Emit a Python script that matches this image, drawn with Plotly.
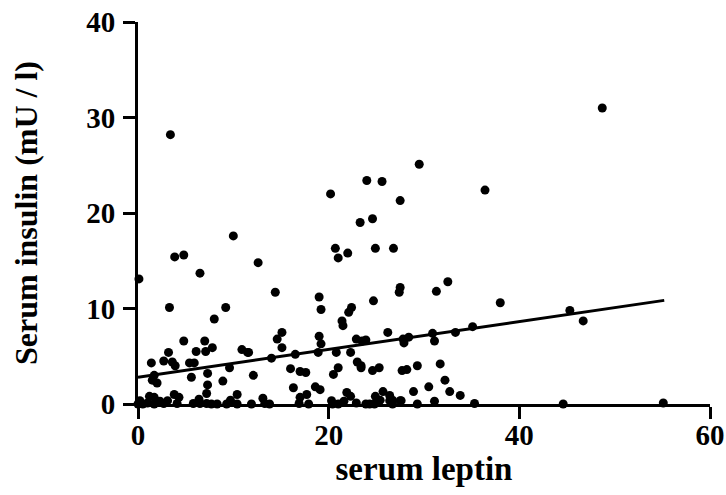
import plotly.graph_objects as go

# Scatter data: serum leptin (x) vs serum insulin (y)
leptin = [
    3.4, 48.7, 0.1, 3.85, 4.8, 6.5, 10.0, 12.6, 14.4, 20.2, 20.7, 21.0, 22.0, 23.3, 24.0,
    24.6, 24.9, 25.6, 26.8, 27.5, 29.5, 36.4, 27.5, 27.4, 24.7, 31.3, 32.5, 38.0, 45.3, 46.7,
    44.6, 55.1, 19.0, 19.2, 35.3, 35.1,
    3.3, 9.2, 8.0, 4.8, 7.0, 3.2, 6.1, 7.1, 7.8, 1.4, 2.7, 3.6, 3.9, 5.4, 5.9, 7.3, 1.7, 1.5,
    2.0, 5.6, 7.3, 8.9, 9.6, 10.9, 11.5, 10.4, 1.2, 1.7, 3.8, 4.3, 7.2, 6.4,
    0.2, 0.5, 1.7, 2.7, 3.1, 4.1, 5.8, 6.5, 7.2, 7.7, 8.3, 9.3, 9.7, 10.4, 0.0, 1.0, 2.3,
    15.1, 14.6, 15.1, 19.0, 19.2, 18.9, 22.9, 23.5, 11.6, 14.0, 16.5, 20.8, 22.3, 23.0, 23.4,
    16.0, 17.0, 17.6, 21.0, 20.5, 12.1, 16.3, 18.6, 19.1, 17.7, 17.0, 21.9, 22.3, 13.1, 21.4,
    21.5, 22.4, 22.1,
    11.9, 13.3, 13.8, 16.9, 17.9, 20.3, 20.4, 21.0, 21.6, 22.9, 23.9, 24.3, 24.8, 25.4,
    23.9, 27.8, 28.4, 27.9, 30.9, 31.1, 33.3, 26.2, 23.4, 24.6, 25.3, 27.7, 28.2, 29.3, 31.7,
    32.2, 30.5, 28.9, 25.7, 24.9, 26.4, 26.7, 27.6, 32.7, 33.8,
    26.4, 26.7, 27.5, 29.3, 31.1,
]
insulin = [
    28.2, 31.0, 13.1, 15.4, 15.6, 13.7, 17.6, 14.8, 11.7, 22.0, 16.3, 15.3, 15.8, 19.0, 23.4,
    19.4, 16.3, 23.3, 16.3, 21.3, 25.1, 22.4, 12.2, 11.7, 10.8, 11.8, 12.8, 10.6, 9.8, 8.7,
    0.0, 0.1, 11.2, 9.9, 0.05, 8.1,
    10.1, 10.1, 8.9, 6.6, 6.6, 5.4, 5.5, 5.5, 5.9, 4.3, 4.5, 4.4, 4.0, 4.3, 4.3, 3.2, 3.0, 2.5,
    2.2, 2.8, 2.0, 2.4, 3.8, 5.7, 5.4, 1.0, 0.8, 0.7, 1.0, 0.7, 1.1, 0.5,
    0.35, 0.0, 0.0, 0.05, 0.35, 0.05, 0.05, 0.05, 0.05, 0.0, 0.0, 0.0, 0.4, 0.0, 0.0, 0.1, 0.3,
    7.5, 6.8, 5.9, 7.1, 6.3, 5.4, 6.8, 6.6, 5.4, 4.8, 5.2, 5.4, 5.4, 4.4, 3.8,
    3.7, 3.4, 3.3, 3.8, 3.1, 3.0, 1.7, 1.8, 1.5, 1.0, 0.7, 1.2, 0.8, 0.6, 8.7,
    8.2, 10.1, 9.6,
    0.0, 0.05, 0.0, 0.05, 0.0, 0.35, 0.0, 0.0, 0.3, 0.1, 0.0, 0.0, 0.0, 0.4,
    6.7, 6.8, 7.0, 6.4, 7.4, 6.6, 7.5, 7.5, 4.0, 3.5, 3.8, 3.5, 3.6, 4.0, 4.2,
    2.5, 1.8, 1.3, 1.3, 0.8, 0.9, 0.4, 0.35, 1.3, 0.9,
    0.35, 0.0, 0.35, 0.0, 0.3,
]

# Regression line end points
fit_x = [0.0, 55.2]
fit_y = [2.8, 10.85]

x_ticks = [0, 20, 40, 60]
y_ticks = [0, 10, 20, 30, 40]

FONT = "Liberation Serif, Times New Roman, serif"

fig = go.Figure()
fig.add_trace(go.Scatter(
    x=leptin, y=insulin, mode="markers",
    marker=dict(color="black", size=9, line=dict(width=0)),
    cliponaxis=False, showlegend=False,
))
fig.add_trace(go.Scatter(
    x=fit_x, y=fit_y, mode="lines",
    line=dict(color="black", width=3),
    cliponaxis=False, showlegend=False,
))

axis_common = dict(
    showline=True, linecolor="black", linewidth=3,
    ticks="outside", ticklen=12, tickwidth=3, tickcolor="black",
    showgrid=False, zeroline=False, automargin=False,
    tickfont=dict(family=FONT, size=29, color="black", weight="bold"),
)

fig.update_xaxes(
    range=[0, 60], tickvals=x_ticks, ticktext=["<b>%d</b>" % v for v in x_ticks],
    title=dict(text="<b>serum leptin</b>", font=dict(family=FONT, size=33, color="black"), standoff=1),
    ticklabelstandoff=-9,
    **axis_common,
)
fig.update_yaxes(
    range=[0, 40], tickvals=y_ticks, ticktext=["<b>%d</b>" % v for v in y_ticks],
    title=dict(text="<b>Serum insulin (mU / l)</b>", font=dict(family=FONT, size=32, color="black"), standoff=40),
    ticklabelstandoff=2,
    **axis_common,
)

fig.update_layout(
    template="none",
    width=726, height=495,
    margin=dict(l=138, r=16, t=22, b=91, autoexpand=False),
    paper_bgcolor="white", plot_bgcolor="white",
)

fig.write_html("out.html")
